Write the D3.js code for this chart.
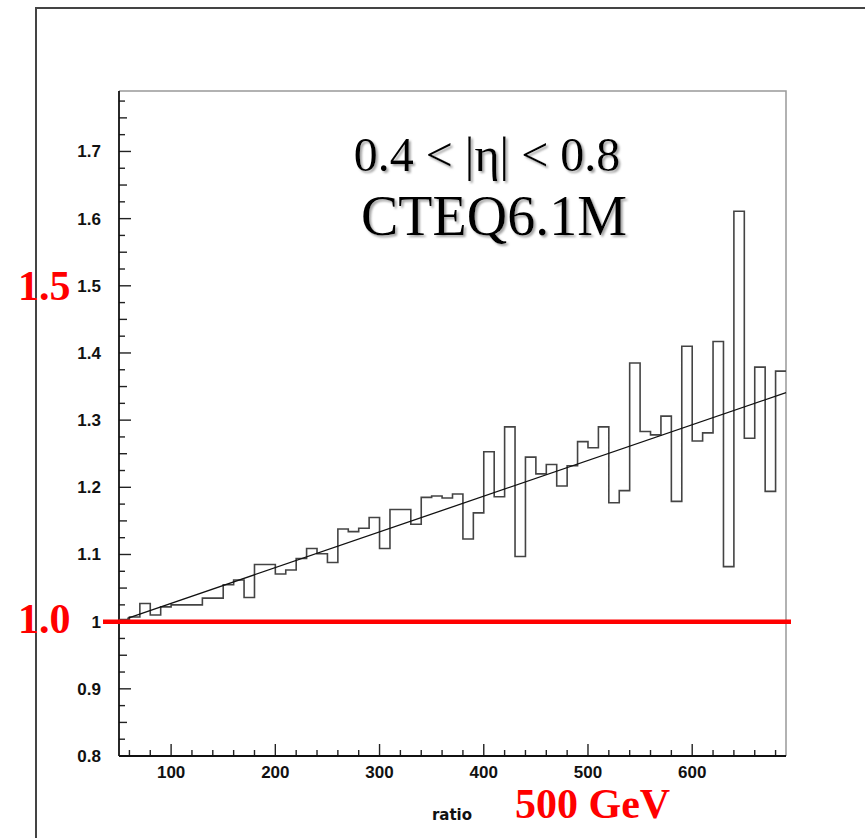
<!DOCTYPE html>
<html>
<head>
<meta charset="utf-8">
<script src="https://cdn.jsdelivr.net/npm/d3@7"></script>
<style>
body { margin: 0; background: #fff; }
svg { display: block; }
.tick-label { font-family: "Liberation Sans", Arial, sans-serif; font-size: 17px; font-weight: bold; fill: #111; }
</style>
</head>
<body>
<svg width="865" height="838"></svg>
<script>
// bin low edges (GeV), 10 GeV wide
var binStarts = [50,60,70,80,90,100,110,120,130,140,150,160,170,180,190,200,
                 210,220,230,240,250,260,270,280,290,300,310,320,330,340,350,360,
                 370,380,390,400,410,420,430,440,450,460,470,480,490,500,510,520,
                 530,540,550,560,570,580,590,600,610,620,630,640,650,660,670,680];
var binEnd = 690;
// ratio per bin
var ratio = [1.003,1.007,1.027,1.010,1.022,1.025,1.025,1.025,1.035,1.035,1.055,1.062,1.036,1.085,1.085,1.071,
             1.077,1.094,1.109,1.101,1.088,1.138,1.134,1.139,1.155,1.109,1.167,1.167,1.145,1.185,1.187,1.184,
             1.190,1.123,1.162,1.253,1.186,1.290,1.097,1.245,1.220,1.234,1.202,1.232,1.268,1.259,1.290,1.177,
             1.195,1.385,1.283,1.278,1.306,1.179,1.410,1.269,1.281,1.417,1.082,1.611,1.273,1.379,1.194,1.373];
// straight line fit, end points
var fitX = [58, 690];
var fitY = [1.005, 1.341];

var xMajor = [100,200,300,400,500,600];
var yMajor = [0.8,0.9,1.0,1.1,1.2,1.3,1.4,1.5,1.6,1.7];
var yLabels = ["0.8","0.9","1","1.1","1.2","1.3","1.4","1.5","1.6","1.7"];

var svg = d3.select("svg");

// soft shadow for the big labels
var f = svg.append("defs").append("filter").attr("id", "shadow")
    .attr("x", "-5%").attr("y", "-20%").attr("width", "115%").attr("height", "150%");
f.append("feDropShadow").attr("dx", 2).attr("dy", 2).attr("stdDeviation", 0.8)
    .attr("flood-color", "#999").attr("flood-opacity", 0.9);

var x = d3.scaleLinear().domain([50, 690]).range([119, 786]);
var y = d3.scaleLinear().domain([0.8, 1.79]).range([756, 91]);

// outer page frame
svg.append("path")
    .attr("d", "M36,838 L36,8 L865,8")
    .attr("fill", "none").attr("stroke", "#444").attr("stroke-width", 2);

// inner frame top / right (grey)
svg.append("path")
    .attr("d", "M" + x(50) + "," + y(1.79) + " L" + x(690) + "," + y(1.79) + " L" + x(690) + "," + y(0.8))
    .attr("fill", "none").attr("stroke", "#999").attr("stroke-width", 1.5);

// x ticks, every 20, long every 100
var xt = d3.range(60, 690, 20);
svg.append("g").selectAll("line").data(xt).enter().append("line")
    .attr("x1", function(d){ return x(d); })
    .attr("x2", function(d){ return x(d); })
    .attr("y1", y(0.8))
    .attr("y2", function(d){ return y(0.8) - (d % 100 == 0 ? 12 : 6); })
    .attr("stroke", "#222").attr("stroke-width", 1.4);

svg.append("g").selectAll("text").data(xMajor).enter().append("text")
    .attr("class", "tick-label")
    .attr("x", function(d){ return x(d); })
    .attr("y", 778)
    .attr("text-anchor", "middle")
    .text(function(d){ return d; });

// y ticks, every 0.025
var yt = d3.range(0, 40).map(function(i){ return 0.8 + i * 0.025; });
svg.append("g").selectAll("line").data(yt).enter().append("line")
    .attr("x1", x(50))
    .attr("x2", function(d, i){ return x(50) + (i % 4 == 0 ? 12 : (i % 2 == 0 ? 8 : 6)); })
    .attr("y1", function(d){ return y(d); })
    .attr("y2", function(d){ return y(d); })
    .attr("stroke", "#222").attr("stroke-width", 1.4);

svg.append("g").selectAll("text").data(yMajor).enter().append("text")
    .attr("class", "tick-label")
    .attr("x", 101)
    .attr("y", function(d){ return y(d) + 6; })
    .attr("text-anchor", "end")
    .text(function(d, i){ return yLabels[i]; });

// axes lines
svg.append("line").attr("x1", x(50)).attr("x2", x(50)).attr("y1", y(1.79)).attr("y2", y(0.8))
    .attr("stroke", "#111").attr("stroke-width", 1.8);
svg.append("line").attr("x1", x(50)).attr("x2", x(690)).attr("y1", y(0.8)).attr("y2", y(0.8))
    .attr("stroke", "#111").attr("stroke-width", 1.8);

// histogram
var pts = binStarts.map(function(b, i){ return [b, ratio[i]]; });
pts.push([binEnd, ratio[ratio.length - 1]]);
var step = d3.line()
    .x(function(d){ return x(d[0]); })
    .y(function(d){ return y(d[1]); })
    .curve(d3.curveStepAfter);
svg.append("path")
    .attr("d", step(pts))
    .attr("fill", "none").attr("stroke", "#444").attr("stroke-width", 1.6);

// fit
svg.append("line")
    .attr("x1", x(fitX[0])).attr("y1", y(fitY[0]))
    .attr("x2", x(fitX[1])).attr("y2", y(fitY[1]))
    .attr("stroke", "#111").attr("stroke-width", 1.3);

// red reference line at 1
svg.append("line").attr("x1", 103).attr("x2", 791).attr("y1", y(1.0)).attr("y2", y(1.0))
    .attr("stroke", "#ff0000").attr("stroke-width", 4.5);

// x title
svg.append("text").attr("x", 452).attr("y", 820).attr("text-anchor", "middle")
    .style("font-family", "'DejaVu Sans', sans-serif").style("font-size", "15px").style("font-weight", "bold")
    .attr("fill", "#111").text("ratio");

// labels in the plot
var serif = "'Liberation Serif', 'Times New Roman', serif";
var lines = [["0.4 < |η| < 0.8", 487, 171, 48], ["CTEQ6.1M", 494, 235, 56]];
lines.forEach(function(l){
    svg.append("text").attr("x", l[1]).attr("y", l[2]).attr("text-anchor", "middle")
        .style("font-family", serif).style("font-size", l[3] + "px").attr("fill", "#000")
        .attr("filter", "url(#shadow)").text(l[0]);
});

// red annotations
var red = [["1.5", 18, 300], ["1.0", 18, 633], ["500 GeV", 515, 818]];
red.forEach(function(r){
    svg.append("text").attr("x", r[1]).attr("y", r[2])
        .style("font-family", serif).style("font-size", "42px").style("font-weight", "bold")
        .attr("fill", "#ff0000").text(r[0]);
});
</script>
</body>
</html>
